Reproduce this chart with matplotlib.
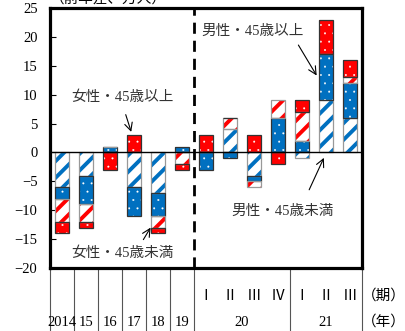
import numpy as np
import matplotlib
matplotlib.use('Agg')
import matplotlib.pyplot as plt

plt.rcParams['font.family'] = ['Liberation Serif', 'Noto Sans CJK JP']
plt.rcParams['axes.unicode_minus'] = True

# data (前年差、万人)
periods = ['2014', '15', '16', '17', '18', '19',
           'Ⅰ', 'Ⅱ', 'Ⅲ', 'Ⅳ', 'Ⅰ', 'Ⅱ', 'Ⅲ']
male_young = [-6, -4, 0, -6, -7, 0, 0, 4, -4, 0, -1, 9, 6]     # 男性・45歳未満
male_old = [-2, -5, 1, -5, -4, 1, -3, -1, -1, 6, 2, 8, 6]      # 男性・45歳以上
female_young = [-4, -3, 0, 0, -2, -2, 0, 2, -1, 3, 5, 0, 1]    # 女性・45歳未満
female_old = [-2, -1, -3, 3, -1, -1, 3, 0, 3, -2, 2, 6, 3]     # 女性・45歳以上

blue = '#0070C0'
red = '#FF0000'
series = [
    (male_young, 'white', blue, '//', '#999999'),
    (male_old, blue, 'white', '..', '#333333'),
    (female_young, 'white', red, '//', '#999999'),
    (female_old, red, 'white', '..', '#333333'),
]

fig = plt.figure(figsize=(4.05, 3.31), dpi=100)
ax = fig.add_axes([50 / 405, 63 / 331, 312 / 405, 260 / 331])

x = np.arange(len(periods))
w = 0.58
pos = np.zeros(len(x))
neg = np.zeros(len(x))
for vals, fc, hc, hatch, oc in series:
    v = np.array(vals, dtype=float)
    bottom = np.where(v >= 0, pos, neg)
    bars = ax.bar(x, v, w, bottom=bottom, color=fc, edgecolor=hc, hatch=hatch,
                  linewidth=0, zorder=2)
    for b in bars:
        try:
            b.set_hatch_linewidth(2.8 if hatch == '//' else 0.2)
        except AttributeError:
            pass
    ax.bar(x, v, w, bottom=bottom, color='none', edgecolor=oc, linewidth=0.9, zorder=3)
    pos = pos + np.where(v > 0, v, 0)
    neg = neg + np.where(v < 0, v, 0)

ax.axhline(0, color='black', lw=1, zorder=4)
ax.axvline(5.5, color='black', lw=2, ls=(0, (4, 2.5)), zorder=4)

ax.set_xlim(-0.5, 12.5)
ax.set_ylim(-20, 25)
ax.set_yticks(range(-20, 26, 5))
ax.tick_params(axis='y', direction='in', length=4, pad=9, labelsize=10.5)
ax.set_xticks([])
for s in ax.spines.values():
    s.set_linewidth(2.3)

# category area below the plot
trans = ax.get_xaxis_transform()
for xb in [-0.5, 0.5, 1.5, 2.5, 3.5, 4.5, 5.5, 9.5, 12.5]:
    ax.plot([xb, xb], [0, -0.25], color='#555555', lw=0.8, transform=trans, clip_on=False)
for i in range(6):
    ax.text(i, -0.21, periods[i], transform=trans, ha='center', va='center', fontsize=10.5)
for i in range(6, 13):
    ax.text(i, -0.108, periods[i], transform=trans, ha='center', va='center', fontsize=10.5)
ax.text(7.5, -0.21, '20', transform=trans, ha='center', va='center', fontsize=10.5)
ax.text(11, -0.21, '21', transform=trans, ha='center', va='center', fontsize=10.5)
ax.text(13.4, -0.108, '（期）', transform=trans, ha='center', va='center', fontsize=10.5)
ax.text(13.4, -0.208, '（年）', transform=trans, ha='center', va='center', fontsize=10.5)

# unit label (cut off at the top, as in the source)
fig.text(50 / 405, (331 - 4) / 331, '（前年差、万人）', ha='left', va='baseline', fontsize=10.5)

# annotations
akw = dict(arrowstyle='->', color='black', lw=0.8, mutation_scale=14)
tc = '#333333'
ax.text(2.5, 9.5, '女性・45歳以上', ha='center', va='center', fontsize=10.5, color=tc)
ax.annotate('', xy=(2.92, 3.1), xytext=(2.62, 7.0), arrowprops=akw, zorder=5)
ax.text(2.5, -17.4, '女性・45歳未満', ha='center', va='center', fontsize=10.5, color=tc)
ax.annotate('', xy=(3.75, -12.6), xytext=(3.33, -15.5), arrowprops=akw, zorder=5)
ax.text(7.96, 21, '男性・45歳以上', ha='center', va='center', fontsize=10.5, color=tc)
ax.annotate('', xy=(10.67, 12.9), xytext=(9.79, 19), arrowprops=akw, zorder=5)
ax.text(9.17, -10.2, '男性・45歳未満', ha='center', va='center', fontsize=10.5, color=tc)
ax.annotate('', xy=(10.96, -0.5), xytext=(10.25, -6.9), arrowprops=akw, zorder=5)

fig.savefig('out.png', dpi=100)
